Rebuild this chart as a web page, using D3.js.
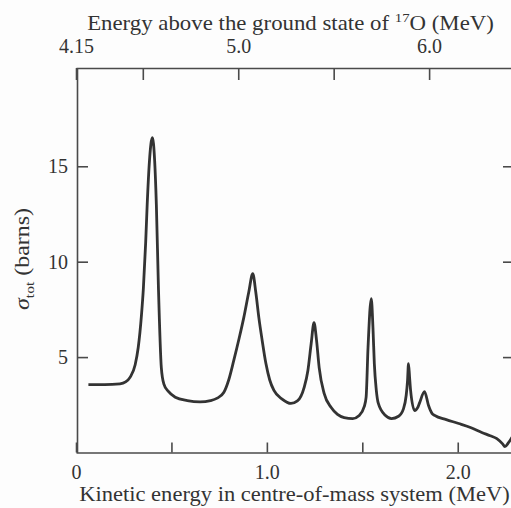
<!DOCTYPE html>
<html>
  <head>
    <meta charset="utf-8">
    <title>Total cross-section</title>
    <script src="https://d3js.org/d3.v7.min.js"></script>
    <style>
      body { margin: 0; background: #fdfdfd; }
      svg { display: block; }
      .axis path, .axis line { stroke: #4a4a4a; stroke-width: 1.6; }
      .axis text { font-family: "Liberation Serif", serif; font-size: 20px; fill: #333; }
      .label { font-family: "Liberation Serif", serif; font-size: 20px; fill: #333; }
      .curve { fill: none; stroke: #333; stroke-width: 2.8; stroke-linejoin: round; }
    </style>
  </head>
  <body>
    <script>
      // kinetic energy in centre-of-mass system (MeV) and total cross-section (barns)
      var energy = [0.065, 0.15, 0.23, 0.26, 0.284, 0.31, 0.326, 0.343, 0.353, 0.365, 0.373, 0.385,
        0.40, 0.412, 0.421, 0.432, 0.447, 0.46, 0.484, 0.52, 0.583, 0.65, 0.705, 0.74, 0.774,
        0.80, 0.826, 0.855, 0.879, 0.905, 0.926, 0.942, 0.958, 0.975, 0.995, 1.015, 1.037,
        1.08, 1.126, 1.16, 1.195, 1.215, 1.232, 1.247, 1.26, 1.274, 1.30, 1.337, 1.37, 1.405,
        1.45, 1.484, 1.51, 1.52, 1.53, 1.547, 1.556, 1.563, 1.573, 1.584, 1.62, 1.653, 1.69,
        1.716, 1.73, 1.737, 1.742, 1.748, 1.753, 1.774, 1.79, 1.80, 1.826, 1.847, 1.865,
        1.879, 1.94, 2.005, 2.07, 2.126, 2.17, 2.205, 2.235, 2.247, 2.265, 2.29];
      var sigma = [3.56, 3.56, 3.6, 3.7, 3.95, 4.6, 5.5, 7.2, 8.6, 11.0, 13.0, 15.3,
        16.5, 15.3, 13.0, 8.6, 4.45, 3.6, 3.2, 2.9, 2.72, 2.65, 2.72, 2.85, 3.14,
        3.8, 4.8, 6.0, 7.07, 8.4, 9.37, 8.4, 7.07, 5.9, 4.66, 3.8, 3.25,
        2.8, 2.57, 2.7, 3.4, 4.3, 5.7, 6.8, 5.9, 4.45, 3.1, 2.36, 2.0, 1.83,
        1.78, 1.94, 2.4, 2.9, 5.5, 8.06, 6.5, 4.66, 3.3, 2.57, 1.95, 1.78, 1.9,
        2.3, 3.0, 3.77, 4.66, 3.9, 3.25, 2.2, 2.35, 2.6, 3.19, 2.46, 2.05,
        1.94, 1.72, 1.52, 1.3, 1.05, 0.88, 0.73, 0.45, 0.31, 0.5, 0.9];

      var xTicks = [0, 0.5, 1.0, 1.5, 2.0];
      var xTickLabels = ["0", "", "1.0", "", "2.0"];
      var topTicks = [4.15, 4.5, 5.0, 5.5, 6.0];
      var topTickLabels = ["4.15", "", "5.0", "", "6.0"];
      var yTicks = [5, 10, 15];
      var groundOffset = 4.15; // energy above ground state = kinetic + 4.15

      var W = 511, H = 508;
      var mLeft = 76, mRight = 515, mTop = 68, mBottom = 452.5;

      var x = d3.scaleLinear().domain([0, 2.3]).range([mLeft, mRight]);
      var xTop = d3.scaleLinear().domain([groundOffset, groundOffset + 2.3]).range([mLeft, mRight]);
      var y = d3.scaleLinear().domain([0, 20.15]).range([mBottom, mTop]);

      var svg = d3.select("body").append("svg")
        .attr("width", W)
        .attr("height", H);

      // bottom axis
      svg.append("g")
        .attr("class", "axis")
        .attr("transform", "translate(0," + mBottom + ")")
        .call(d3.axisBottom(x).tickValues(xTicks).tickSize(-10).tickSizeOuter(0).tickPadding(12)
          .tickFormat(function(d, i) { return xTickLabels[i]; }));

      // top axis
      svg.append("g")
        .attr("class", "axis")
        .attr("transform", "translate(0," + mTop + ")")
        .call(d3.axisTop(xTop).tickValues(topTicks).tickSize(-12).tickSizeOuter(0).tickPadding(15)
          .tickFormat(function(d, i) { return topTickLabels[i]; }));

      // left axis
      svg.append("g")
        .attr("class", "axis")
        .attr("transform", "translate(" + (mLeft + 1) + ",0)")
        .call(d3.axisLeft(y).tickValues(yTicks).tickSize(-11).tickSizeOuter(0).tickPadding(9)
          .tickFormat(d3.format("d")));

      // right axis
      svg.append("g")
        .attr("class", "axis")
        .attr("transform", "translate(" + mRight + ",0)")
        .call(d3.axisRight(y).tickValues(yTicks).tickSize(-12).tickSizeOuter(0).tickFormat(""));

      // curve
      var pts = energy.map(function(e, i) { return [e, sigma[i]]; });
      var line = d3.line()
        .x(function(d) { return x(d[0]); })
        .y(function(d) { return y(d[1]); })
        .curve(d3.curveMonotoneX);
      svg.append("path")
        .attr("class", "curve")
        .attr("d", line(pts));

      // stretch a label horizontally to the width used in the printed figure
      function fit(g, width) {
        var t = g.select("text");
        var w = t.node().getComputedTextLength();
        t.attr("transform", "scale(" + (width / w) + ",1)");
      }

      var topTitle = svg.append("g").attr("transform", "translate(290.5,29.5)");
      var tt = topTitle.append("text").attr("class", "label").attr("text-anchor", "middle");
      tt.append("tspan").text("Energy above the ground state of ");
      tt.append("tspan").attr("font-size", "13px").attr("dy", -8).text("17");
      tt.append("tspan").attr("dy", 8).text("O (MeV)");
      fit(topTitle, 407);

      var botTitle = svg.append("g").attr("transform", "translate(294.5,501)");
      botTitle.append("text").attr("class", "label").attr("text-anchor", "middle")
        .text("Kinetic energy in centre-of-mass system (MeV)");
      fit(botTitle, 431);

      var yTitle = svg.append("g").attr("transform", "translate(29,259) rotate(-90)");
      var yt = yTitle.append("text").attr("class", "label").attr("text-anchor", "middle");
      yt.append("tspan").attr("font-style", "italic").text("σ");
      yt.append("tspan").attr("font-size", "13px").attr("dy", 5).text("tot");
      yt.append("tspan").attr("dy", -5).text(" (barns)");
      fit(yTitle, 102);
    </script>
  </body>
</html>
